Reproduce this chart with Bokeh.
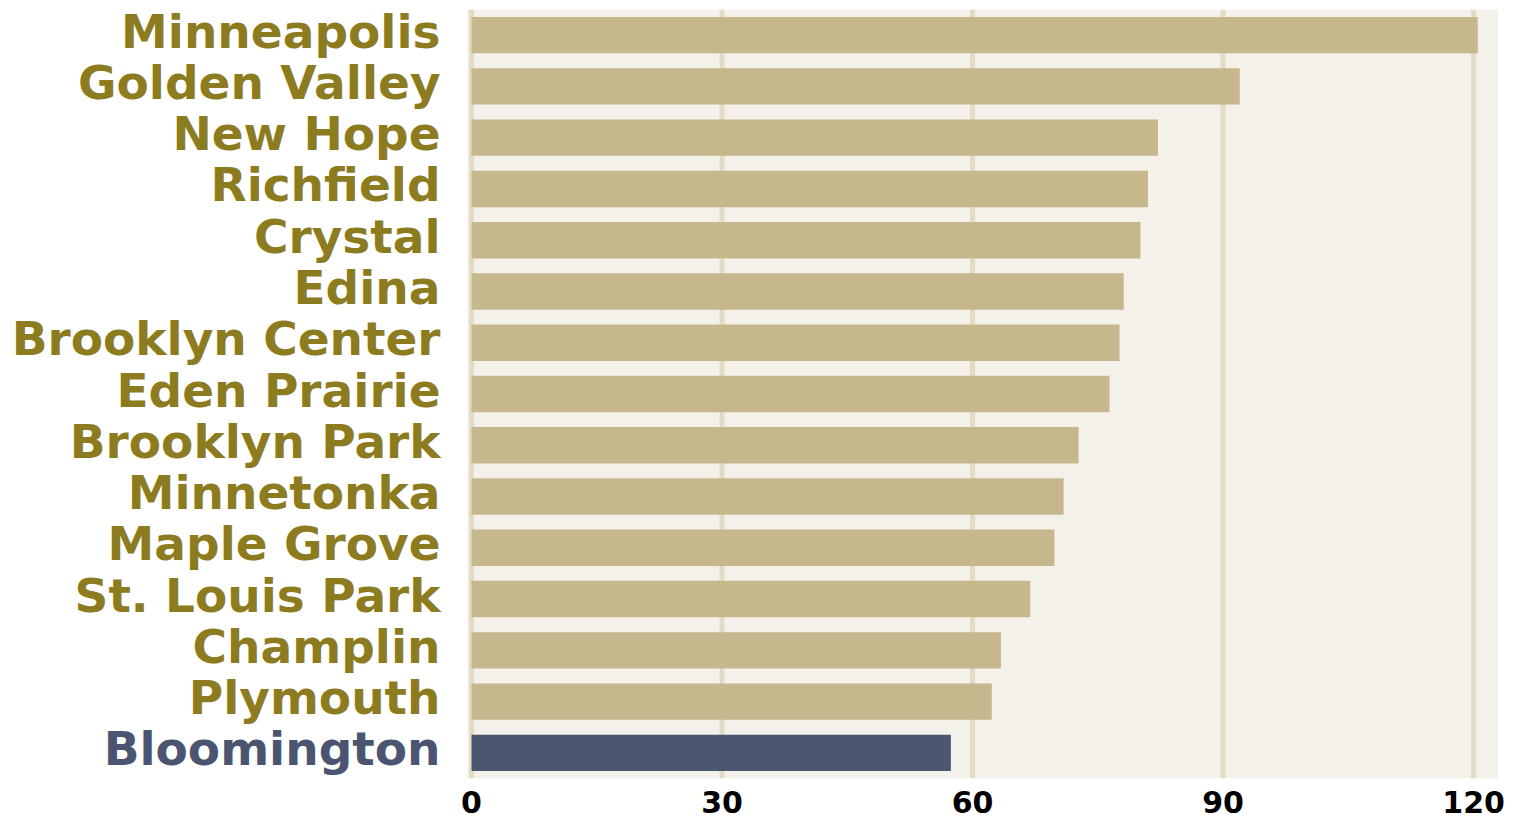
from bokeh.plotting import figure
from bokeh.models import FactorRange, Range1d, FixedTicker, BoxAnnotation, Span, ColumnDataSource
from bokeh.core.properties import value
from bokeh.embed import file_html
from bokeh.resources import INLINE

cities = ["Minneapolis", "Golden Valley", "New Hope", "Richfield", "Crystal", "Edina",
          "Brooklyn Center", "Eden Prairie", "Brooklyn Park", "Minnetonka", "Maple Grove",
          "St. Louis Park", "Champlin", "Plymouth", "Bloomington"]
values = [120.5, 92.0, 82.2, 81.0, 80.1, 78.1, 77.6, 76.4, 72.7, 70.9, 69.8, 66.9, 63.4, 62.3, 57.4]
highlight = "Bloomington"
x_ticks = [0, 30, 60, 90, 120]

BAR = "#c6b78c"
BAR_HI = "#4b566f"
LABEL = "#8d7c1f"
LABEL_HI = "#4b5571"
GRID = "#e4dbc6"
PANEL = "#f4f1ea"

bar_colors = [BAR_HI if c == highlight else BAR for c in cities]
label_colors = [LABEL_HI if c == highlight else LABEL for c in cities]
src = ColumnDataSource(dict(city=cities, val=values, bc=bar_colors, lc=label_colors,
                            zero=[0] * len(cities)))

p = figure(width=1511, height=820, output_backend="svg", toolbar_location=None,
           y_range=FactorRange(factors=list(reversed(cities)), range_padding=0),
           x_range=Range1d(-56.41, 124.54),
           min_border_left=0, min_border_right=0, min_border_top=9, min_border_bottom=42)
p.background_fill_color = "white"
p.border_fill_color = "white"
p.outline_line_color = None
p.xgrid.visible = False
p.ygrid.visible = False
p.yaxis.visible = False

p.add_layout(BoxAnnotation(left=-0.48, right=122.9, fill_color=PANEL, fill_alpha=1,
                           line_color=None, level="underlay"))
for t in x_ticks:
    p.add_layout(Span(location=t, dimension="height", line_color=GRID, line_width=5,
                      level="underlay"))

p.hbar(y="city", left="zero", right="val", height=0.71, fill_color="bc", line_color=None,
       source=src)
p.text(x="zero", y="city", text="city", x_offset=-31, y_offset=-4, text_align="right",
       text_baseline="middle", text_font=value("DejaVu Sans"), text_font_style="bold",
       text_font_size="47px", text_color="lc", source=src)

ax = p.xaxis[0]
ax.ticker = FixedTicker(ticks=x_ticks)
ax.axis_line_color = None
ax.major_tick_line_color = None
ax.minor_tick_line_color = None
ax.major_label_standoff = 6
ax.major_label_text_font = "DejaVu Sans"
ax.major_label_text_font_style = "bold"
ax.major_label_text_font_size = "30px"
ax.major_label_text_color = "black"

open("out.html", "w").write(file_html(p, INLINE))
